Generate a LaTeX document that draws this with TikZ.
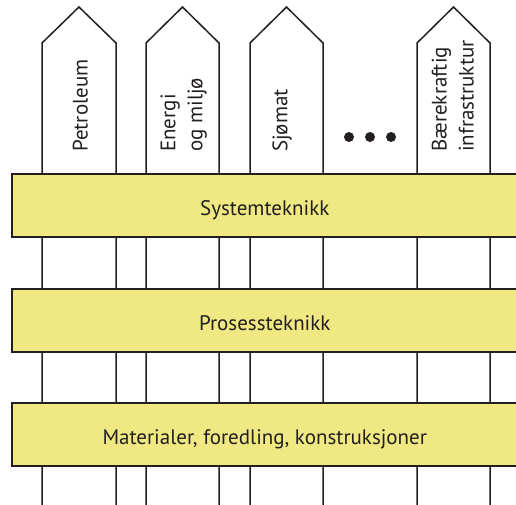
\documentclass[tikz,border=0pt]{standalone}
\usepackage{fontspec}
\setmainfont{PT Sans}
\definecolor{band}{HTML}{F0E882}
\definecolor{ink}{HTML}{231F20}
\begin{document}
\begin{tikzpicture}[x=1pt,y=-1pt,
  outline/.style={draw=ink,line width=1.5pt},
  pillar/.style={outline,fill=white},
  bandbox/.style={outline,fill=band,minimum width=506pt,minimum height=63pt,inner sep=0pt,text height=20pt,text depth=0pt,anchor=north west,font=\fontsize{21}{24}\selectfont,text=ink},
  plabel/.style={rotate=90,anchor=south west,align=left,inner sep=0pt,font=\fontsize{21}{27}\selectfont,text=ink},
  dot/.style={circle,fill=ink,inner sep=0pt,minimum size=10pt}]
\useasboundingbox (0,0) rectangle (516,504);
\clip (0,0) rectangle (516,504);
% pillars
\foreach \l/\r in {42/116,146/219,250/323,417/490}{
  \draw[pillar] (\l,520) -- (\l,43) -- ({(\l+\r)/2},7) -- (\r,43) -- (\r,520);
}
% labels
\node[plabel] (petro) at (88,152) {Petroleum};
\node[plabel] (energi) at (207,152) {Energi\\og miljø};
\node[plabel] (sjo) at (292,152) {Sjømat};
\node[plabel] (baere) at (474,152) {Bærekraftig\\infrastruktur};
\node[dot] (d1) at (349,137) {};
\node[dot] (d2) at (370,137) {};
\node[dot] (d3) at (391,137) {};
% bands
\node[bandbox] (sys) at (11,173) {Systemteknikk};
\node[bandbox] (pro) at (11,288) {Prosessteknikk};
\node[bandbox] (mat) at (11,402) {Materialer, foredling, konstruksjoner};
\end{tikzpicture}
\end{document}
